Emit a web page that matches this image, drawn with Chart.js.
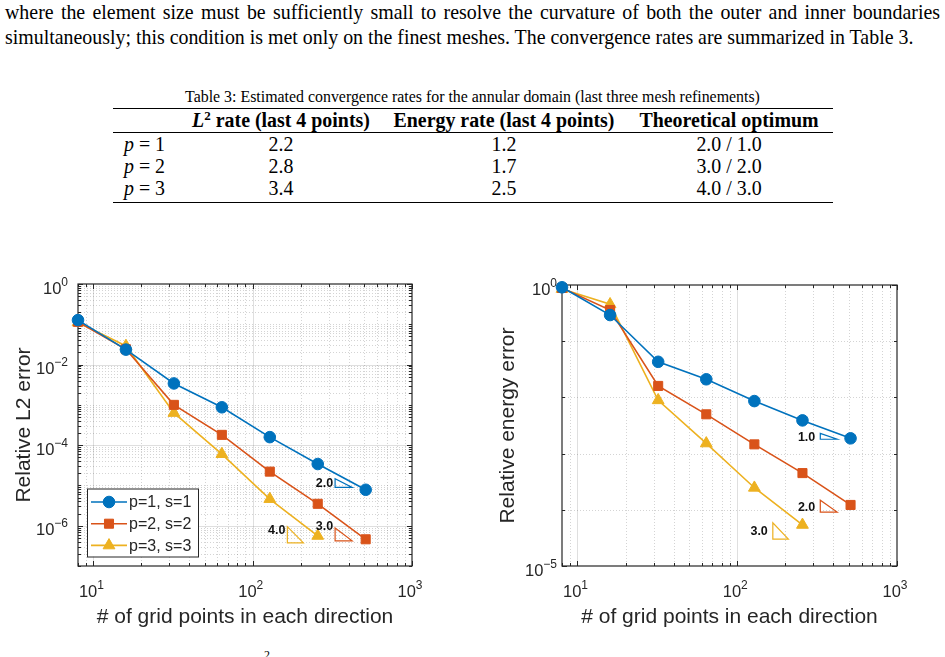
<!DOCTYPE html>
<html>
<head>
<meta charset="utf-8">
<script src="https://cdn.jsdelivr.net/npm/chart.js@4.4.0/dist/chart.umd.min.js"></script>
<style>
    body {
        margin: 0;
        width: 945px;
        height: 657px;
        position: relative;
        overflow: hidden;
        background: #fff;
        font-family: "Liberation Serif", "Times New Roman", serif;
        color: #000;
    }
    .txt {
        position: absolute;
        left: 5px;
        width: 935px;
        font-size: 19.9px;
        line-height: 24px;
    }
    #line1 { top: 0px; text-align: justify; text-align-last: justify; }
    #line2 { top: 25px; white-space: nowrap; }
    #caption {
        position: absolute;
        left: 0;
        width: 945px;
        top: 88px;
        text-align: center;
        font-size: 15.9px;
        line-height: 18px;
    }
    #rates {
        position: absolute;
        left: 113px;
        top: 108px;
        width: 720px;
        border-collapse: collapse;
        table-layout: fixed;
        font-size: 19.9px;
        border-top: 1.6px solid #000;
        border-bottom: 1.6px solid #000;
    }
    #rates th, #rates td {
        padding: 0;
        text-align: center;
        white-space: nowrap;
    }
    #rates th { height: 23px; line-height: 23px; border-bottom: 1px solid #000; }
    #rates td { height: 22px; line-height: 22px; }
    #rates tr:last-child td { padding-bottom: 3px; }
    #rates td.first { text-align: left; padding-left: 11px; }
    #rates .sup { position: relative; top: -7px; font-size: 13px; line-height: 0; }
    #nextline {
        position: absolute;
        left: 264px;
        top: 649px;
        font-size: 12px;
        line-height: 12px;
    }
    canvas { position: absolute; }
</style>
</head>
<body>
<div class="txt" id="line1">where the element size must be sufficiently small to resolve the curvature of both the outer and inner boundaries</div>
<div class="txt" id="line2">simultaneously; this condition is met only on the finest meshes. The convergence rates are summarized in Table 3.</div>
<div id="caption">Table 3: Estimated convergence rates for the annular domain (last three mesh refinements)</div>
<table id="rates">
    <colgroup><col style="width:66px"><col style="width:204px"><col style="width:242px"><col style="width:208px"></colgroup>
    <thead><tr><th></th><th><i>L</i><span class="sup">2</span> rate (last 4 points)</th><th>Energy rate (last 4 points)</th><th>Theoretical optimum</th></tr></thead>
    <tbody id="ratesBody"></tbody>
</table>
<div id="nextline">2</div>
<canvas id="l2Chart" width="470" height="407" style="left:0px;top:250px"></canvas>
<canvas id="energyChart" width="475" height="407" style="left:470px;top:250px"></canvas>
<script>
// table
const pValues = ["1", "2", "3"];
const l2Rates = ["2.2", "2.8", "3.4"];
const energyRates = ["1.2", "1.7", "2.5"];
const optimumRates = ["2.0 / 1.0", "3.0 / 2.0", "4.0 / 3.0"];

// charts
const gridPoints = [8, 16, 32, 64, 128, 256, 512];
const l2P1 = [0.127, 0.0235, 3.4e-3, 8.7e-4, 1.58e-4, 3.4e-5, 7.8e-6];
const l2P2 = [0.115, 0.024, 1.0e-3, 1.8e-4, 2.2e-5, 3.5e-6, 4.6e-7];
const l2P3 = [0.111, 0.029, 6.3e-4, 6.0e-5, 4.6e-6, 5.6e-7];
const energyP1 = [0.91, 0.292, 0.043, 0.021, 8.6e-3, 3.9e-3, 1.87e-3];
const energyP2 = [0.885, 0.359, 0.016, 5.0e-3, 1.46e-3, 4.5e-4, 1.22e-4];
const energyP3 = [0.85, 0.454, 8.9e-3, 1.52e-3, 2.47e-4, 5.4e-5];
const seriesLabels = ["p=1, s=1", "p=2, s=2", "p=3, s=3"];

const xTickExps = [1, 2, 3];
const l2TickExps = [-6, -4, -2, 0];
const energyTickExps = [-5, 0];

// slope triangles: [x0, x1, base y, slope, label y, label]
const l2Slopes = [
    [329, 421, 8.95e-6, 2, 1.12e-5, "2.0"],
    [329, 421, 4.2e-7, 3, 9.5e-7, "3.0"],
    [165, 208, 3.75e-7, 4, 7.5e-7, "4.0"],
];
const energySlopes = [
    [331, 422, 1.8e-3, 1, 1.92e-3, "1.0"],
    [331, 422, 9.1e-5, 2, 1.09e-4, "2.0"],
    [167, 209, 3.0e-5, 3, 4.07e-5, "3.0"],
];

const colors = ["#0072BD", "#D95319", "#EDB120"];
const markers = [
    { style: "circle", r: 5.8 },
    { style: "rect", r: 6.4 },
    { style: "triangle", r: 6.8 },
];
const axisColor = "#262626";
const sans = '"Liberation Sans", Arial, sans-serif';

let body = document.getElementById("ratesBody");
pValues.forEach((p, i) => {
    let tr = document.createElement("tr");
    tr.innerHTML = `<td class="first"><i>p</i> = ${p}</td><td>${l2Rates[i]}</td><td>${energyRates[i]}</td><td>${optimumRates[i]}</td>`;
    body.appendChild(tr);
});

function logTicks(min, max, allMinor) {
    let out = [];
    for (let e = Math.floor(Math.log10(min)); e <= Math.ceil(Math.log10(max)); e++) {
        for (let k = 1; k <= 9; k++) {
            if (!allMinor && k > 1) continue;
            let v = k * Math.pow(10, e);
            if (v < min * 0.999 || v > max * 1.001) continue;
            out.push({ v: v, e: e, k: k });
        }
    }
    return out;
}

function drawPower(ctx, exp, x, y, align) {
    let base = "10";
    let sup = exp < 0 ? "\u2212" + Math.abs(exp) : String(exp);
    ctx.font = "16.5px " + sans;
    let wb = ctx.measureText(base).width;
    ctx.font = "12px " + sans;
    let ws = ctx.measureText(sup).width;
    let left = align === "right" ? x - wb - ws : x - (wb + ws) / 2;
    ctx.textAlign = "left";
    ctx.textBaseline = "alphabetic";
    ctx.font = "16.5px " + sans;
    ctx.fillText(base, left, y);
    ctx.font = "12px " + sans;
    ctx.fillText(sup, left + wb, y - 8);
}

function drawMarker(ctx, i, x, y) {
    ctx.fillStyle = colors[i];
    ctx.strokeStyle = colors[i];
    ctx.lineWidth = 1;
    Chart.helpers.drawPoint(ctx, { pointStyle: markers[i].style, radius: markers[i].r, rotation: 0, borderWidth: 1 }, x, y);
}

const matlabAxes = {
    id: "matlabAxes",
    beforeDatasetsDraw(chart, args, o) {
        const { ctx, chartArea: a, scales: { x, y } } = chart;
        ctx.save();
        let xt = logTicks(x.min, x.max, true);
        let yt = logTicks(y.min, y.max, o.yMinorAll);
        let isMajorX = (t) => t.k === 1 && xTickExps.includes(t.e);
        let isMajorY = (t) => t.k === 1 && o.yExps.includes(t.e);
        // grid
        ctx.lineWidth = 1;
        [false, true].forEach((major) => {
            ctx.strokeStyle = major ? "rgba(38,38,38,0.15)" : "rgba(38,38,38,0.2)";
            ctx.setLineDash(major ? [] : [1, 2]);
            xt.forEach((t) => {
                if (isMajorX(t) !== major) return;
                let px = Math.round(x.getPixelForValue(t.v)) + 0.5;
                if (px <= a.left + 1 || px >= a.right - 1) return;
                ctx.beginPath();
                ctx.moveTo(px, a.top);
                ctx.lineTo(px, a.bottom);
                ctx.stroke();
            });
            yt.forEach((t) => {
                if (isMajorY(t) !== major) return;
                let py = Math.round(y.getPixelForValue(t.v)) + 0.5;
                if (py <= a.top + 1 || py >= a.bottom - 1) return;
                ctx.beginPath();
                ctx.moveTo(a.left, py);
                ctx.lineTo(a.right, py);
                ctx.stroke();
            });
        });
        ctx.setLineDash([]);
        // box and inward ticks
        ctx.strokeStyle = axisColor;
        ctx.lineWidth = 1.2;
        ctx.strokeRect(a.left, a.top, a.right - a.left, a.bottom - a.top);
        ctx.lineWidth = 1;
        xt.forEach((t) => {
            let px = Math.round(x.getPixelForValue(t.v)) + 0.5;
            let len = isMajorX(t) ? 5 : 3;
            ctx.beginPath();
            ctx.moveTo(px, a.bottom);
            ctx.lineTo(px, a.bottom - len);
            ctx.moveTo(px, a.top);
            ctx.lineTo(px, a.top + len);
            ctx.stroke();
        });
        yt.forEach((t) => {
            let py = Math.round(y.getPixelForValue(t.v)) + 0.5;
            let len = isMajorY(t) ? 5 : 3;
            ctx.beginPath();
            ctx.moveTo(a.left, py);
            ctx.lineTo(a.left + len, py);
            ctx.moveTo(a.right, py);
            ctx.lineTo(a.right - len, py);
            ctx.stroke();
        });
        ctx.restore();
    },
    afterDatasetsDraw(chart, args, o) {
        const { ctx, chartArea: a, scales: { x, y } } = chart;
        ctx.save();
        ctx.fillStyle = axisColor;
        xTickExps.forEach((e) => {
            drawPower(ctx, e, x.getPixelForValue(Math.pow(10, e)) - 2, a.bottom + 30.5, "center");
        });
        o.yExps.forEach((e) => {
            drawPower(ctx, e, a.left - o.labelGap, y.getPixelForValue(Math.pow(10, e)) + 9.5, "right");
        });
        // axis titles
        ctx.font = "21px " + sans;
        ctx.textAlign = "center";
        ctx.textBaseline = "alphabetic";
        ctx.fillText("# of grid points in each direction", (a.left + a.right) / 2, a.bottom + 57);
        ctx.translate(a.left - 48, (a.top + a.bottom) / 2);
        ctx.rotate(-Math.PI / 2);
        ctx.fillText(o.yTitle, 0, 0);
        ctx.restore();

        // slope triangles
        ctx.save();
        o.slopes.forEach((s, i) => {
            let [x0, x1, yb, slope, ly, label] = s;
            let px0 = x.getPixelForValue(x0);
            let px1 = x.getPixelForValue(x1);
            let pyb = y.getPixelForValue(yb);
            let pyt = y.getPixelForValue(yb * Math.pow(x1 / x0, slope));
            ctx.strokeStyle = colors[i];
            ctx.lineWidth = 1.2;
            ctx.beginPath();
            ctx.moveTo(px0, pyt);
            ctx.lineTo(px0, pyb);
            ctx.lineTo(px1, pyb);
            ctx.closePath();
            ctx.stroke();
            ctx.fillStyle = "#111";
            ctx.font = "bold 12.5px " + sans;
            ctx.textAlign = "right";
            ctx.textBaseline = "middle";
            ctx.fillText(label, px0 - o.slopeGap, y.getPixelForValue(ly));
        });
        ctx.restore();

        // legend
        if (o.legend) {
            ctx.save();
            let lx = a.left + 9, ly = a.bottom - 77.5, lw = 111, lh = 68;
            ctx.fillStyle = "#fff";
            ctx.fillRect(lx, ly, lw, lh);
            ctx.strokeStyle = axisColor;
            ctx.lineWidth = 1;
            ctx.strokeRect(lx + 0.5, ly + 0.5, lw, lh);
            seriesLabels.forEach((label, i) => {
                let cy = ly + 13.5 + i * 21.7;
                ctx.strokeStyle = colors[i];
                ctx.lineWidth = 1.6;
                ctx.beginPath();
                ctx.moveTo(lx + 4, cy);
                ctx.lineTo(lx + 40, cy);
                ctx.stroke();
                drawMarker(ctx, i, lx + 22, cy);
                ctx.fillStyle = axisColor;
                ctx.font = "16px " + sans;
                ctx.textAlign = "left";
                ctx.textBaseline = "middle";
                ctx.fillText(label, lx + 42, cy + 1);
            });
            ctx.restore();
        }
    },
};

function makeChart(canvasId, series, yMin, padding, opts) {
    let datasets = series.map((values, i) => ({
        label: seriesLabels[i],
        data: values.map((v, j) => ({ x: gridPoints[j], y: v })),
        borderColor: colors[i],
        backgroundColor: colors[i],
        borderWidth: 1.6,
        pointStyle: markers[i].style,
        pointRadius: markers[i].r,
        pointBorderWidth: 1,
        pointBackgroundColor: colors[i],
        pointBorderColor: colors[i],
        tension: 0,
        clip: false,
    }));

    new Chart(document.getElementById(canvasId), {
        type: "line",
        data: { datasets: datasets },
        options: {
            responsive: false,
            animation: false,
            devicePixelRatio: 1,
            layout: { padding: padding },
            plugins: {
                legend: { display: false },
                tooltip: { enabled: false },
                matlabAxes: opts,
            },
            scales: {
                x: { type: "logarithmic", min: 8, max: 1000, display: false },
                y: { type: "logarithmic", min: yMin, max: 1, display: false },
            },
        },
        plugins: [matlabAxes],
    });
}

makeChart("l2Chart", [l2P1, l2P2, l2P3], 1e-7,
    { left: 78, top: 34, right: 58, bottom: 91 },
    { yExps: l2TickExps, yMinorAll: true, labelGap: 10, yTitle: "Relative L2 error", slopes: l2Slopes, slopeGap: 2, legend: true });

makeChart("energyChart", [energyP1, energyP2, energyP3], 1e-5,
    { left: 92, top: 35, right: 48, bottom: 91 },
    { yExps: energyTickExps, yMinorAll: false, labelGap: 5, yTitle: "Relative energy error", slopes: energySlopes, slopeGap: 5, legend: false });
</script>
</body>
</html>
